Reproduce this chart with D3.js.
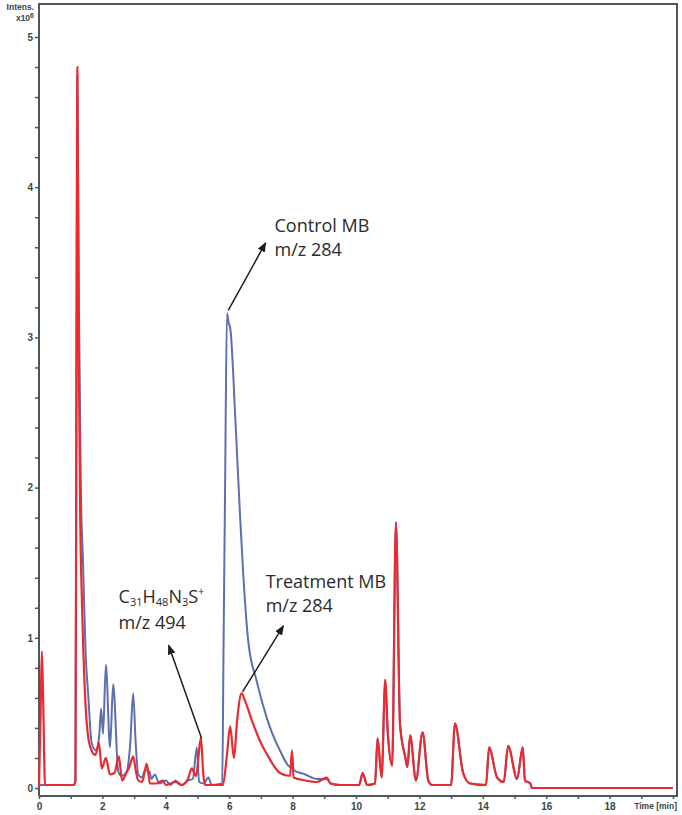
<!DOCTYPE html>
<html>
<head>
<meta charset="utf-8">
<script src="https://cdn.jsdelivr.net/npm/d3@7"></script>
<style>
    body { margin: 0; background: #fff; }
    .tick text { font-family: "Liberation Sans", Arial, sans-serif; font-size: 10px; font-weight: bold; fill: #3a4646; }
    .tick line { stroke: #4a5858; stroke-width: 1.5; }
    .note { font-family: "Open Sans", sans-serif; font-size: 18px; fill: #2b2b2b; }
    .unit { font-family: "Liberation Sans", Arial, sans-serif; font-size: 8.5px; font-weight: bold; fill: #3a4646; }
</style>
</head>
<body>
<div id="chart"></div>
<script>
const controlTime = [0, 1.10, 1.15, 1.18, 1.21, 1.26, 1.32, 1.39, 1.47, 1.55, 1.66, 1.80, 1.90, 1.96, 2.02, 2.11, 2.24, 2.34, 2.50, 2.60, 2.75, 2.88, 2.97, 3.05, 3.13, 3.25, 3.35, 3.48, 3.55, 3.65, 3.80, 4.00, 4.15, 4.30, 4.50, 4.70, 4.85, 4.98, 5.05, 5.20, 5.34, 5.45, 5.78, 5.82, 5.87, 5.93, 5.98, 6.04, 6.20, 6.35, 6.45, 6.60, 6.87, 7.18, 7.60, 7.94, 7.98, 8.03, 8.40, 8.77, 9.08, 9.20, 9.50, 10.10, 10.21, 10.35, 10.60, 10.68, 10.81, 10.92, 11.00, 11.14, 11.26, 11.39, 11.55, 11.62, 11.71, 11.89, 12.10, 12.28, 12.40, 13.00, 13.12, 13.38, 13.60, 14.10, 14.20, 14.45, 14.66, 14.80, 15.08, 15.26, 15.33, 15.50, 15.55, 20];
const controlInt  = [0.02, 0.02, 0.05, 2.6, 4.75, 3.2, 2.0, 1.5, 0.9, 0.63, 0.30, 0.25, 0.35, 0.53, 0.36, 0.82, 0.27, 0.69, 0.11, 0.08, 0.10, 0.30, 0.63, 0.30, 0.09, 0.07, 0.12, 0.11, 0.06, 0.09, 0.03, 0.05, 0.02, 0.05, 0.02, 0.05, 0.06, 0.27, 0.04, 0.03, 0.07, 0.02, 0.03, 0.9, 2.0, 3.16, 3.1, 3.05, 2.43, 1.78, 1.4, 0.98, 0.71, 0.47, 0.25, 0.14, 0.22, 0.12, 0.09, 0.06, 0.06, 0.03, 0.02, 0.02, 0.10, 0.02, 0.03, 0.33, 0.07, 0.72, 0.38, 0.15, 1.77, 0.42, 0.21, 0.14, 0.35, 0.05, 0.37, 0.05, 0.02, 0.02, 0.43, 0.10, 0.03, 0.02, 0.27, 0.07, 0.04, 0.28, 0.06, 0.27, 0.05, 0.03, 0.0, 0.0];

const treatmentTime = [0, 0.05, 0.09, 0.13, 0.19, 1.10, 1.15, 1.18, 1.21, 1.25, 1.30, 1.36, 1.45, 1.55, 1.66, 1.78, 1.89, 1.98, 2.11, 2.24, 2.38, 2.52, 2.62, 2.75, 2.85, 2.97, 3.05, 3.13, 3.25, 3.40, 3.50, 3.70, 3.90, 4.00, 4.30, 4.50, 4.70, 4.82, 4.95, 5.11, 5.18, 5.24, 5.80, 5.92, 6.03, 6.15, 6.25, 6.39, 6.50, 6.75, 7.00, 7.18, 7.40, 7.60, 7.92, 7.98, 8.03, 8.40, 8.77, 9.08, 9.20, 9.50, 10.10, 10.21, 10.35, 10.60, 10.68, 10.81, 10.92, 11.00, 11.14, 11.26, 11.39, 11.55, 11.62, 11.71, 11.89, 12.10, 12.28, 12.40, 13.00, 13.12, 13.38, 13.60, 14.10, 14.20, 14.45, 14.66, 14.80, 15.08, 15.26, 15.33, 15.50, 15.55, 20];
const treatmentInt  = [0.0, 0.5, 0.91, 0.6, 0.02, 0.02, 0.05, 2.6, 4.8, 3.0, 1.8, 1.2, 0.63, 0.34, 0.25, 0.22, 0.30, 0.13, 0.20, 0.09, 0.10, 0.21, 0.05, 0.10, 0.14, 0.21, 0.12, 0.05, 0.04, 0.16, 0.03, 0.03, 0.05, 0.02, 0.04, 0.02, 0.06, 0.13, 0.08, 0.33, 0.10, 0.02, 0.02, 0.20, 0.41, 0.20, 0.45, 0.63, 0.58, 0.43, 0.30, 0.23, 0.15, 0.10, 0.08, 0.25, 0.07, 0.05, 0.04, 0.07, 0.03, 0.02, 0.02, 0.10, 0.02, 0.03, 0.33, 0.07, 0.72, 0.38, 0.15, 1.77, 0.42, 0.21, 0.14, 0.35, 0.05, 0.37, 0.05, 0.02, 0.02, 0.43, 0.10, 0.03, 0.02, 0.27, 0.07, 0.04, 0.28, 0.06, 0.27, 0.05, 0.03, 0.0, 0.0];

const xTickValues = [0, 2, 4, 6, 8, 10, 12, 14, 16, 18];
const yTickValues = [0, 1, 2, 3, 4, 5];

//Anotaciones: punto de la curva, punta de la flecha y texto (en unidades de datos)
const controlNote = { from: [5.97, 3.18], to: [7.15, 3.63], at: [7.43, 3.70], gap: 24, lines: ['Control MB', 'm/z 284'] };
const treatmentNote = { from: [6.42, 0.64], to: [7.71, 1.08], at: [7.15, 1.33], gap: 24, lines: ['Treatment MB', 'm/z 284'] };
const productNote = { from: [5.13, 0.33], to: [4.09, 0.95], at: [2.51, 1.23], gap: 26, lines: ['C|31|H|48|N|3|S|+', 'm/z 494'] };

//Colores fijos
const COLOR_CONTROL = '#5c6fae',
COLOR_TREATMENT = '#ea2a30',
COLOR_AXIS = '#4a5858';

let width = 682, height = 815;

let svg = d3.select('#chart')
    .append('svg')
        .attr('width', width)
        .attr('height', height);

let x = d3.scaleLinear()
    .domain([0, 20])
    .range([39, 673]);

let y = d3.scaleLinear()
    .domain([0, 5])
    .range([788, 37]);

let frameTop = 4, frameBottom = 796, frameRight = 677;

//Eje X
let xAxis = function(g) {
    g.call(d3.axisBottom(x).tickValues(d3.range(0, 21)).tickSize(3).tickSizeOuter(0)
        .tickFormat(function(d) { return xTickValues.indexOf(d) > -1 ? d : ''; }));
    g.call(function(g) { g.select('.domain').remove(); });
    g.call(function(g) { g.selectAll('.tick text').attr('y', 7); });
};

svg.append('g')
    .attr('transform', 'translate(0,' + frameBottom + ')')
    .call(xAxis);

//Eje Y con ticks menores cada 0.2
let yAxis = function(g) {
    g.call(d3.axisLeft(y).tickValues(d3.range(0, 26).map(function(i) { return i / 5; })).tickSize(4).tickSizeOuter(0)
        .tickFormat(function(d) { return yTickValues.indexOf(d) > -1 ? d : ''; }));
    g.call(function(g) { g.select('.domain').remove(); });
    g.call(function(g) { g.selectAll('.tick text').attr('x', -6); });
};

svg.append('g')
    .attr('transform', 'translate(' + x(0) + ',0)')
    .call(yAxis);

//Marco
svg.append('path')
    .attr('d', 'M' + x(0) + ',' + frameBottom + 'V' + frameTop + 'H' + frameRight + 'V' + frameBottom + 'H' + x(0))
    .attr('fill', 'none')
    .attr('stroke', COLOR_AXIS)
    .attr('stroke-width', 2);

//Unidades
svg.append('text').attr('class', 'unit').attr('x', 34).attr('y', 10).attr('text-anchor', 'end').text('Intens.');
let unitText = svg.append('text').attr('class', 'unit').attr('x', 34).attr('y', 21).attr('text-anchor', 'end');
unitText.append('tspan').text('x10');
unitText.append('tspan').attr('dy', -3).attr('font-size', '7px').text('6');

svg.append('text').attr('class', 'unit')
    .attr('x', frameRight).attr('y', frameBottom + 13)
    .attr('text-anchor', 'end')
    .attr('font-size', '9.5px')
    .text('Time [min]');

//Lineas
let line = d3.line()
    .x(function(d) { return x(d[0]); })
    .y(function(d) { return y(d[1]); })
    .curve(d3.curveMonotoneX);

svg.append('path')
    .datum(d3.zip(controlTime, controlInt))
    .attr('d', line)
    .attr('fill', 'none')
    .attr('stroke', COLOR_CONTROL)
    .attr('stroke-width', 2);

svg.append('path')
    .datum(d3.zip(treatmentTime, treatmentInt))
    .attr('d', line)
    .attr('fill', 'none')
    .attr('stroke', COLOR_TREATMENT)
    .attr('stroke-width', 2.2);

//Flechas y textos
svg.append('defs').append('marker')
    .attr('id', 'arrow')
    .attr('viewBox', '0 0 10 8')
    .attr('refX', 9).attr('refY', 4)
    .attr('markerWidth', 10).attr('markerHeight', 8)
    .attr('markerUnits', 'userSpaceOnUse')
    .attr('orient', 'auto')
    .append('path')
        .attr('d', 'M0,0L10,4L0,8Z')
        .attr('fill', '#1e1e1e');

[controlNote, treatmentNote, productNote].forEach(function(n) {
    svg.append('line')
        .attr('x1', x(n.from[0])).attr('y1', y(n.from[1]))
        .attr('x2', x(n.to[0])).attr('y2', y(n.to[1]))
        .attr('stroke', '#1e1e1e')
        .attr('stroke-width', 1.5)
        .attr('marker-end', 'url(#arrow)');

    n.lines.forEach(function(l, i) {
        let t = svg.append('text')
            .attr('class', 'note')
            .attr('x', x(n.at[0]))
            .attr('y', y(n.at[1]) + i * n.gap);
        if (l.indexOf('|') > -1) {
            //Formula con subindices y superindice
            let parts = l.split('|');
            parts.forEach(function(p, j) {
                let sub = j % 2 == 1;
                let sup = sub && j == parts.length - 1;
                let ts = t.append('tspan').text(p);
                if (sub) ts.attr('font-size', '11px');
                if (sup) ts.attr('dy', -8);
                else if (sub) ts.attr('dy', 3);
                else if (j > 0) ts.attr('dy', -3);
            });
        } else {
            t.text(l);
        }
    });
});
</script>
</body>
</html>
